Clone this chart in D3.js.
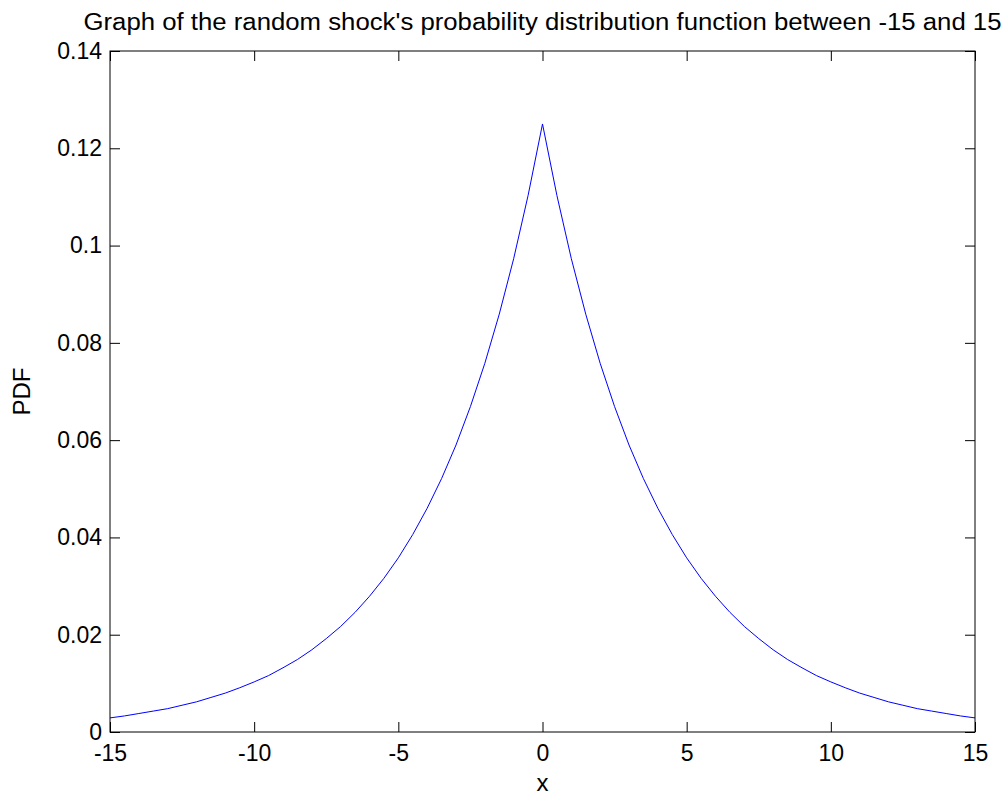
<!DOCTYPE html>
<html>
<head>
<meta charset="utf-8">
<script src="https://cdn.jsdelivr.net/npm/d3@7"></script>
<style>
  body { margin: 0; background: #fff; }
  svg text { font-family: "Liberation Sans", Arial, sans-serif; fill: #000; }
</style>
</head>
<body>
<svg></svg>
<script>
const svgWidth = 1006;
const svgHeight = 798;

// x positions read every 0.5 along the axis
const xValues = d3.range(-15, 15.01, 0.5);
// PDF values (right half, x = 0 .. 15), mirrored for the left half
const halfPdf = [0.125, 0.1103, 0.0973, 0.0859, 0.0758, 0.0669, 0.059, 0.0521, 0.046, 0.0406,
                 0.0358, 0.0316, 0.0279, 0.0246, 0.0217, 0.0192, 0.0169, 0.0149, 0.0132, 0.0116,
                 0.0103, 0.0091, 0.008, 0.0071, 0.0062, 0.0055, 0.0048, 0.0043, 0.0038, 0.0033, 0.0029];
const pdfValues = halfPdf.slice(1).reverse().concat(halfPdf);

const xTicks = [-15, -10, -5, 0, 5, 10, 15];
const xTickLabels = ["-15", "-10", "-5", "0", "5", "10", "15"];
const yTicks = [0, 0.02, 0.04, 0.06, 0.08, 0.1, 0.12, 0.14];
const yTickLabels = ["0", "0.02", "0.04", "0.06", "0.08", "0.1", "0.12", "0.14"];

const margin = {left: 110, right: 31, top: 51, bottom: 66};
const plotW = svgWidth - margin.left - margin.right;
const plotH = svgHeight - margin.top - margin.bottom;

const svg = d3.select('svg')
            .attr("width", svgWidth)
            .attr("height", svgHeight)

const x = d3.scaleLinear().domain([-15, 15]).range([0, plotW]);
const y = d3.scaleLinear().domain([0, 0.14]).range([plotH, 0]);

const g = svg.append("g").attr("transform", `translate(${margin.left},${margin.top})`);

// the curve
const line = d3.line()
               .x((d, i) => x(xValues[i]))
               .y(d => y(d));

g.append("path")
 .datum(pdfValues)
 .attr("d", line)
 .attr("fill", "none")
 .attr("stroke", "#0000ff")
 .attr("stroke-width", 1);

// box style axes, ticks pointing inward on every side
const tickLen = 10;
const styleAxis = sel => {
  sel.select(".domain").remove();
  sel.selectAll("line").attr("stroke", "#000");
  sel.selectAll("text").style("font-size", "23px").attr("fill", "#000");
};

g.append("g")
 .attr("transform", `translate(0,${plotH})`)
 .call(d3.axisBottom(x).tickValues(xTicks).tickFormat((d, i) => xTickLabels[i])
        .tickSizeInner(-tickLen).tickSizeOuter(0).tickPadding(13))
 .call(styleAxis);

g.append("g")
 .call(d3.axisTop(x).tickValues(xTicks).tickFormat("")
        .tickSizeInner(-tickLen).tickSizeOuter(0))
 .call(styleAxis);

g.append("g")
 .call(d3.axisLeft(y).tickValues(yTicks).tickFormat((d, i) => yTickLabels[i])
        .tickSizeInner(-tickLen).tickSizeOuter(0).tickPadding(8))
 .call(styleAxis);

g.append("g")
 .attr("transform", `translate(${plotW},0)`)
 .call(d3.axisRight(y).tickValues(yTicks).tickFormat("")
        .tickSizeInner(-tickLen).tickSizeOuter(0))
 .call(styleAxis);

g.append("rect")
 .attr("x", 0).attr("y", 0)
 .attr("width", plotW).attr("height", plotH)
 .attr("fill", "none")
 .attr("stroke", "#000")
 .attr("stroke-width", 1);

// labels
svg.append("text")
   .attr("x", margin.left + plotW / 2)
   .attr("y", 30)
   .attr("text-anchor", "middle")
   .attr("textLength", 918)
   .attr("lengthAdjust", "spacingAndGlyphs")
   .style("font-size", "23px")
   .text("Graph of the random shock's probability distribution function between -15 and 15");

svg.append("text")
   .attr("x", margin.left + plotW / 2)
   .attr("y", 791)
   .attr("text-anchor", "middle")
   .style("font-size", "24px")
   .text("x");

svg.append("text")
   .attr("transform", `translate(30,${margin.top + plotH / 2}) rotate(-90)`)
   .attr("text-anchor", "middle")
   .style("font-size", "24px")
   .text("PDF");
</script>
</body>
</html>
